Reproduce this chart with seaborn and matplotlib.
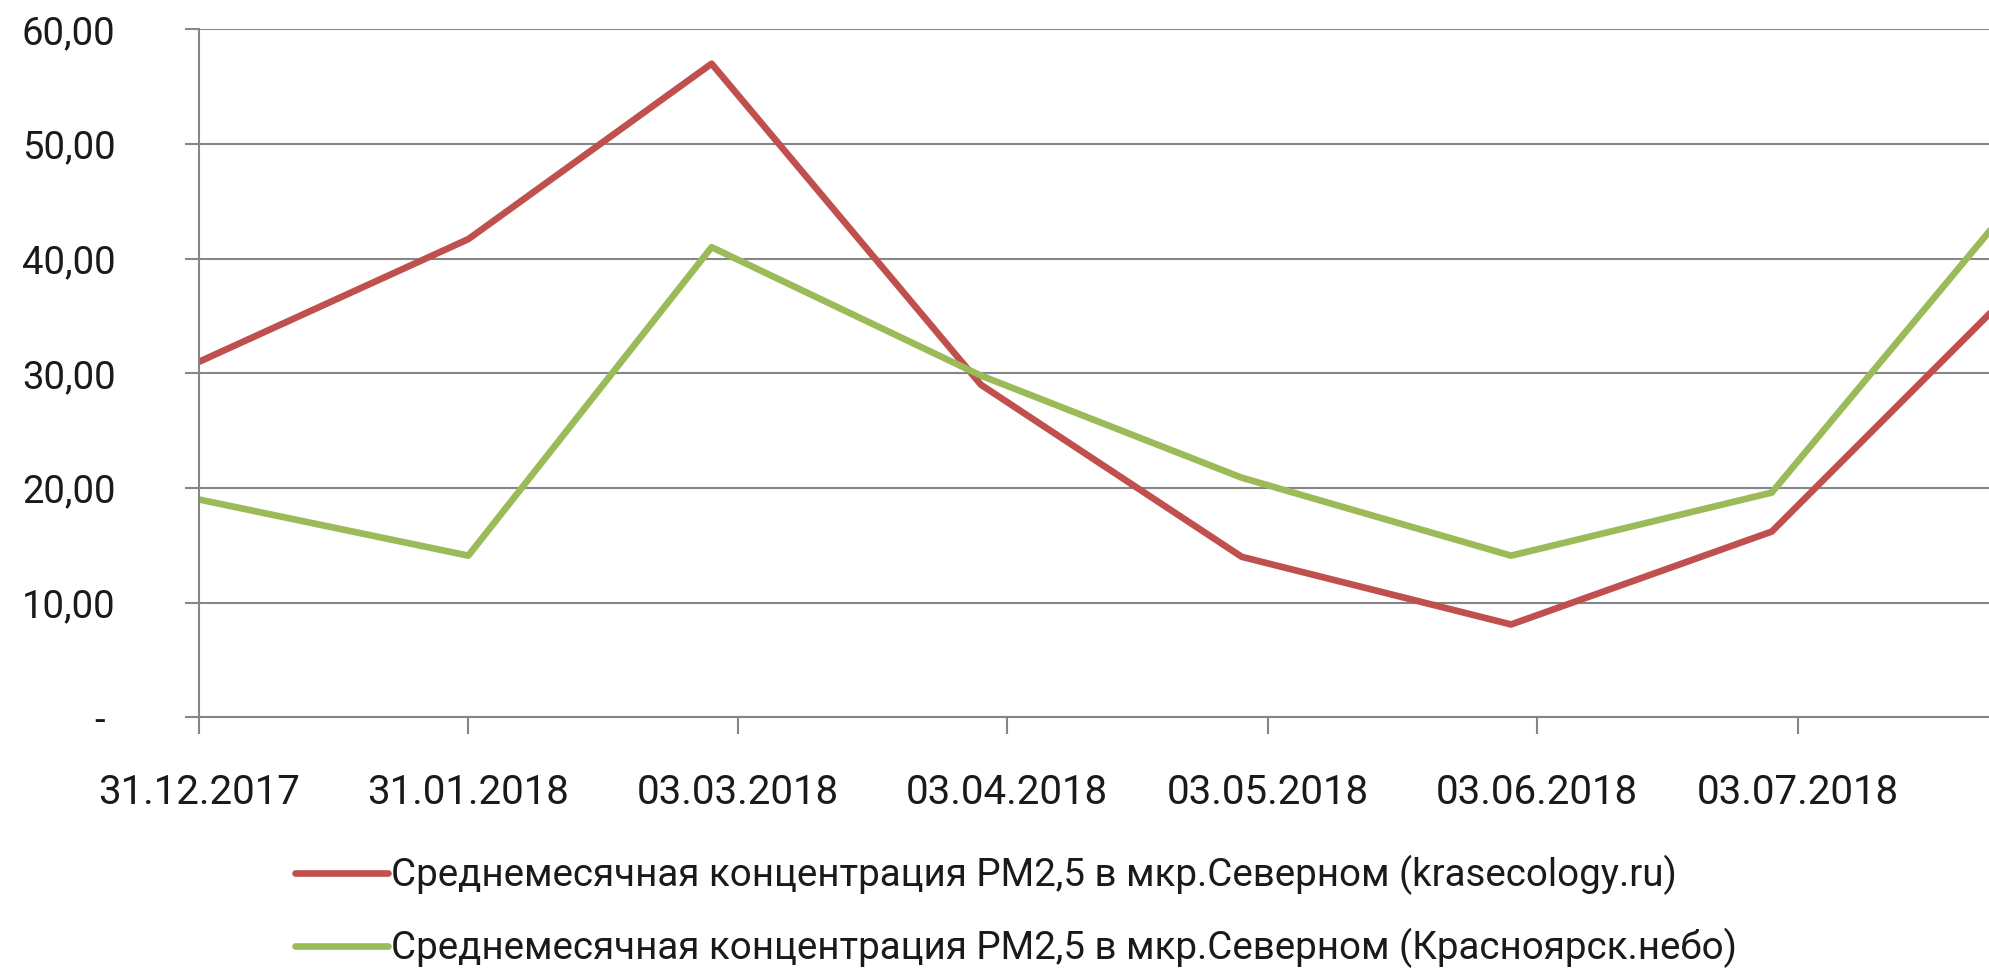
import numpy as np
import pandas as pd
import matplotlib
matplotlib.use("Agg")
import matplotlib.pyplot as plt
import seaborn as sns
from matplotlib.lines import Line2D

# даты замеров (конец месяца) и значения PM2,5
dates = ["2017-12-31", "2018-01-31", "2018-02-28", "2018-03-31",
         "2018-04-30", "2018-05-31", "2018-06-30", "2018-07-31"]
krasecology = [31.0, 41.7, 57.0, 29.0, 14.0, 8.1, 16.2, 39.7]
nebo = [19.0, 14.1, 41.0, 29.8, 20.9, 14.1, 19.6, 47.8]

label_red = "Среднемесячная концентрация PM2,5 в мкр.Северном (krasecology.ru)"
label_green = "Среднемесячная концентрация PM2,5 в мкр.Северном (Красноярск.небо)"

tick_dates = ["2017-12-31", "2018-01-31", "2018-03-03", "2018-04-03",
              "2018-05-03", "2018-06-03", "2018-07-03"]
y_ticks = [0, 10, 20, 30, 40, 50, 60]
y_labels = ["- ", "10,00", "20,00", "30,00", "40,00", "50,00", "60,00"]

df = pd.DataFrame({
    "Дата": pd.to_datetime(dates * 2),
    "PM2,5": krasecology + nebo,
    "Источник": [label_red] * len(dates) + [label_green] * len(dates),
})

sns.set_style("white")
plt.rcParams["font.family"] = ["Roboto", "DejaVu Sans"]

fig = plt.figure(figsize=(19.89, 9.76), dpi=100)
ax = fig.add_axes([0.1, 0.265, 0.9, 0.705])

sns.lineplot(data=df, x="Дата", y="PM2,5", hue="Источник",
             palette={label_red: "#C0504D", label_green: "#9BBB59"},
             linewidth=4.8, ax=ax, legend=False)

ax.set_xlim(pd.Timestamp("2017-12-31"), pd.Timestamp("2018-07-25"))
ax.set_ylim(0, 60)
ax.set_xlabel("")
ax.set_ylabel("")

ax.set_yticks(y_ticks)
ax.set_yticklabels(y_labels)
ax.set_xticks(pd.to_datetime(tick_dates))
ax.set_xticklabels([pd.Timestamp(d).strftime("%d.%m.%Y") for d in tick_dates])

ax.yaxis.grid(True, color="#868686", linewidth=1.5)
ax.xaxis.grid(False)
for s in ["top", "right"]:
    ax.spines[s].set_visible(False)
for s in ["left", "bottom"]:
    ax.spines[s].set_color("#868686")
    ax.spines[s].set_linewidth(1.5)

ax.tick_params(axis="y", length=10, width=1.5, color="#868686", pad=50,
               labelsize=27.5, labelcolor="#1a1a1a", left=True)
ax.tick_params(axis="x", length=12, width=1.5, color="#868686", pad=28,
               labelsize=29, labelcolor="#1a1a1a", bottom=True)

handles = [Line2D([], [], color="#C0504D", linewidth=4.8),
           Line2D([], [], color="#9BBB59", linewidth=4.8)]
fig.legend(handles, [label_red, label_green], loc="center",
           bbox_to_anchor=(0.511, 0.066), frameon=False,
           fontsize=27.7, handlelength=2.4, handletextpad=0.1,
           labelspacing=0.85, labelcolor="#1a1a1a")

fig.savefig("out.png", dpi=100)
